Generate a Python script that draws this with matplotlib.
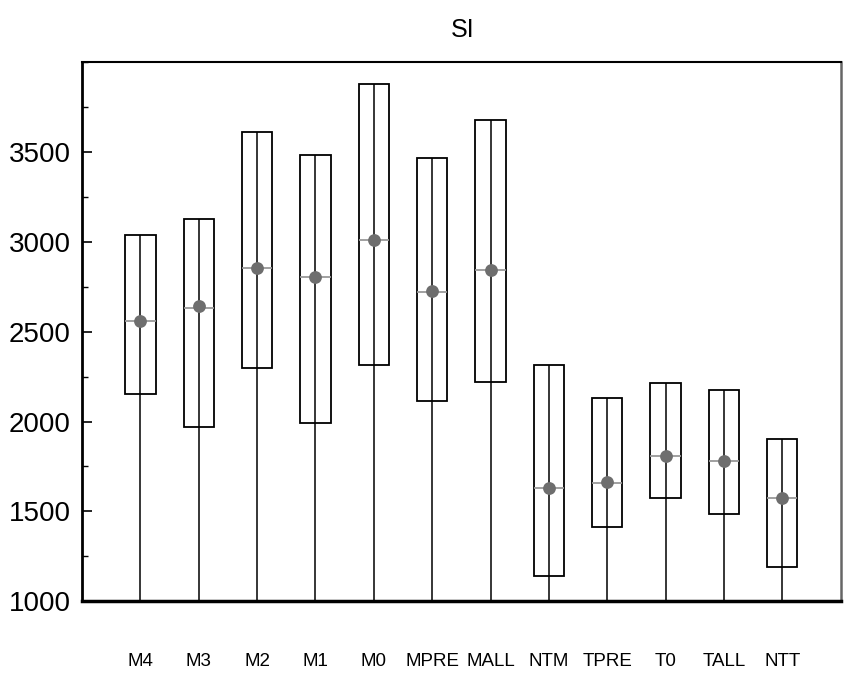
import matplotlib.pyplot as plt
import numpy as np
from matplotlib.ticker import MultipleLocator

plt.rcParams['font.family'] = ['Liberation Sans', 'DejaVu Sans']

# box plot data
groups = ["M4", "M3", "M2", "M1", "M0", "MPRE", "MALL", "NTM", "TPRE", "T0", "TALL", "NTT"]
q1 = [2153, 1970, 2296, 1992, 2314, 2113, 2220, 1141, 1413, 1572, 1485, 1189]
q3 = [3037, 3124, 3611, 3481, 3876, 3463, 3678, 2314, 2133, 2214, 2174, 1903]
median = [2559, 2633, 2853, 2802, 3009, 2720, 2841, 1628, 1659, 1807, 1779, 1574]
mean = [2559, 2640, 2856, 2805, 3012, 2725, 2845, 1630, 1662, 1810, 1782, 1576]

ymin, ymax = 1000, 4000

fig = plt.figure(figsize=(8.44, 6.73), dpi=100)
ax = fig.add_axes([0.0972, 0.1065, 0.8988, 0.8015])

x = np.arange(1, len(groups) + 1)
q1 = np.array(q1)
q3 = np.array(q3)

# whisker line runs from the bottom up through the box
ax.vlines(x, ymin, q3, color='black', linewidth=1.1, zorder=2)
ax.bar(x, q3 - q1, bottom=q1, width=0.52, fill=False,
       edgecolor='black', linewidth=1.3, zorder=3)
ax.hlines(median, x - 0.26, x + 0.26, color='#999999', linewidth=1.3, zorder=4)
ax.scatter(x, mean, s=85, color='#6e6e6e', zorder=5, linewidths=0)

ax.set_xlim(0, 13)
ax.set_ylim(ymin, ymax)
ax.set_xticks(x)
ax.set_xticklabels(groups, fontsize=13.5)
ax.tick_params(axis='x', length=0, pad=37)

ax.yaxis.set_major_locator(MultipleLocator(500))
ax.yaxis.set_minor_locator(MultipleLocator(250))
ax.set_yticks([1000, 1500, 2000, 2500, 3000, 3500])
ax.tick_params(axis='y', which='major', direction='in', length=7, width=1.2, labelsize=20, pad=8)
ax.tick_params(axis='y', which='minor', direction='in', length=4, width=1.0)

ax.spines['left'].set_linewidth(2.0)
ax.spines['bottom'].set_linewidth(2.5)
ax.spines['top'].set_linewidth(1.5)
ax.spines['right'].set_linewidth(1.8)
ax.spines['right'].set_color('#666666')

fig.text(0.548, 0.955, "SI", fontsize=18, ha='center', va='center')

fig.savefig("out.png", dpi=100)
